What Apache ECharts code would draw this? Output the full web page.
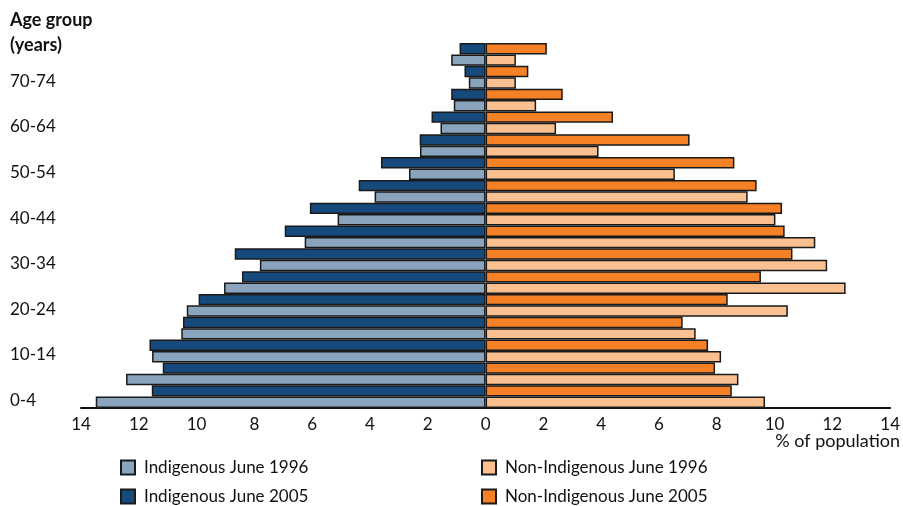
<!DOCTYPE html>
<html>
<head>
<meta charset="utf-8">
<script src="https://cdn.jsdelivr.net/npm/echarts@6/dist/echarts.min.js"></script>
<style>html,body{margin:0;padding:0;background:#fff}#c{width:903px;height:506px}</style>
</head>
<body>
<div id="c"></div>
<script>
const ageGroups = ['0-4','5-9','10-14','15-19','20-24','25-29','30-34','35-39','40-44','45-49','50-54','55-59','60-64','65-69','70-74','75+'];
const indigenous1996 = [13.49,12.44,11.54,10.53,10.34,9.05,7.81,6.26,5.12,3.84,2.65,2.27,1.56,1.10,0.58,1.19];
const indigenous2005 = [11.55,11.17,11.63,10.47,9.93,8.43,8.68,6.95,6.08,4.39,3.62,2.28,1.87,1.19,0.73,0.90];
const nonIndigenous1996 = [9.67,8.75,8.15,7.27,10.46,12.46,11.82,11.41,10.03,9.07,6.55,3.91,2.44,1.75,1.05,1.05];
const nonIndigenous2005 = [8.52,7.94,7.70,6.82,8.38,9.53,10.62,10.35,10.26,9.38,8.61,7.06,4.41,2.67,1.48,2.12];
const xTicks = [-14,-12,-10,-8,-6,-4,-2,0,2,4,6,8,10,12,14];

const FONT = 'Lato';
const border = {borderColor:'#1a1a1a', borderWidth:1.5};
function legendItem(name, left, top){
  return {orient:'horizontal', left:left, top:top, itemGap:10, itemWidth:14, itemHeight:14,
    icon:'rect', padding:0, textStyle:{fontSize:17, color:'#111', fontFamily:FONT, padding:[0,0,0,4]},
    data:[name]};
}
const chart = echarts.init(document.getElementById('c'));
chart.setOption({
  animation:false,
  textStyle:{fontFamily:FONT},
  grid:{left:81, right:7, top:43, bottom:98, containLabel:false},
  xAxis:{
    type:'value', min:-14, max:14, interval:2,
    axisLine:{show:true, lineStyle:{color:'#111', width:2}},
    axisTick:{show:false}, splitLine:{show:false},
    axisLabel:{color:'#111', fontSize:17, fontFamily:FONT, margin:8,
      formatter:v=>xTicks.includes(v)?String(Math.abs(v)):''}
  },
  yAxis:{
    type:'category', data:ageGroups,
    axisLine:{show:false}, axisTick:{show:false},
    axisLabel:{interval:1, align:'left', margin:71, color:'#111', fontSize:17, fontFamily:FONT,
      verticalAlign:'top', lineHeight:8}
  },
  legend:[
    legendItem('Indigenous June 1996', 120, 459),
    legendItem('Indigenous June 2005', 120, 488),
    legendItem('Non-Indigenous June 1996', 481, 459),
    legendItem('Non-Indigenous June 2005', 481, 488)
  ],
  graphic:[
    {type:'text', left:10, top:8, style:{text:'Age group\n(years)', fontSize:18, lineHeight:25, fontWeight:'bold', fill:'#111', fontFamily:FONT}},
    {type:'text', right:3, top:432, style:{text:'% of population', fontSize:18, fill:'#111', fontFamily:FONT}}
  ],
  series:[
    {name:'Indigenous June 2005', type:'bar', stack:'y2005', barGap:'0%', barCategoryGap:'0%',
     itemStyle:Object.assign({color:'#174a7c'},border), data:indigenous2005.map(v=>-v)},
    {name:'Non-Indigenous June 2005', type:'bar', stack:'y2005',
     itemStyle:Object.assign({color:'#f58025'},border), data:nonIndigenous2005},
    {name:'Indigenous June 1996', type:'bar', stack:'y1996', barGap:'0%', barCategoryGap:'0%',
     itemStyle:Object.assign({color:'#8aa4be'},border), data:indigenous1996.map(v=>-v)},
    {name:'Non-Indigenous June 1996', type:'bar', stack:'y1996',
     itemStyle:Object.assign({color:'#fac090'},border), data:nonIndigenous1996}
  ]
});
</script>
</body>
</html>
